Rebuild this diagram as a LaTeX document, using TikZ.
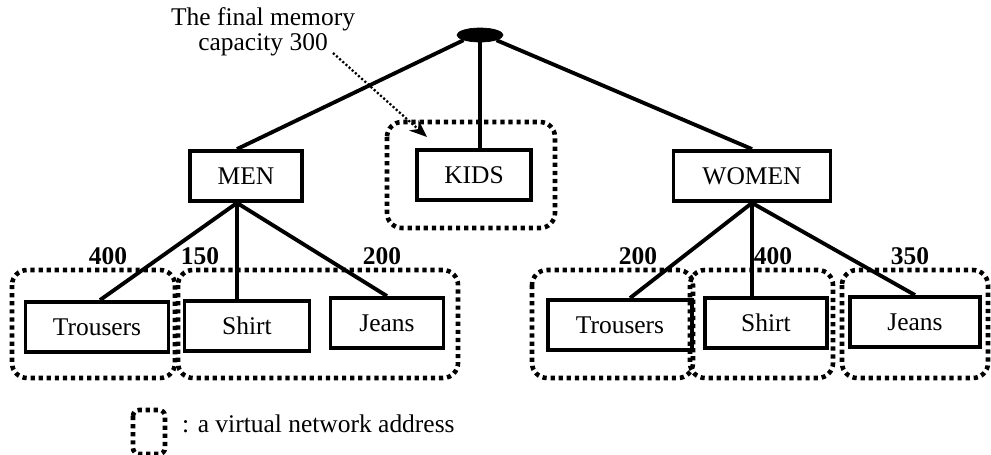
\documentclass[tikz,border=0pt]{standalone}
\usepackage{fontspec}
\setmainfont{Liberation Serif}
\usetikzlibrary{positioning,arrows.meta,shapes.geometric}

\tikzset{
	item/.style={draw,line width=2.2pt,inner sep=0pt,minimum height=50*0.02cm,font=\fontsize{14.5}{17}\selectfont},
	edge/.style={line width=2.2pt},
	vnet/.style={line width=2.6pt,dash pattern=on 2.4pt off 2.2pt,rounded corners=0.3cm},
	capnum/.style={font=\fontsize{14.5}{17}\selectfont\bfseries}
}

\begin{document}
\begin{tikzpicture}[x=0.02cm,y=-0.02cm]
	\useasboundingbox (0,0) rectangle (991,454);

	%root and first level
	\node[draw,fill=black,ellipse,minimum width=46*0.02cm,minimum height=14*0.02cm,inner sep=0pt] (root) at (480,35) {};
	\node[item,minimum width=112*0.02cm] (men) at (246,176) {MEN};
	\node[item,minimum width=114*0.02cm] (kids) at (474,175) {KIDS};
	\node[item,minimum width=157*0.02cm] (women) at (752,176) {WOMEN};

	\draw[edge] (root.south west) -- (men.north -| 237,0);
	\draw[edge] (root.south) -- (kids.north -| root.south);
	\draw[edge] (root.south east) -- (women.north);

	%second level, men
	\node[item,minimum width=143*0.02cm] (trousersM) at (97,327) {Trousers};
	\node[item,minimum width=125*0.02cm] (shirtM) at (247,326) {Shirt};
	\node[item,minimum width=113*0.02cm] (jeansM) at (387,323) {Jeans};

	\draw[edge] (men.south -| 237,0) -- (trousersM.north -| 100,0);
	\draw[edge] (men.south -| 237,0) -- (shirtM.north -| 237,0);
	\draw[edge] (men.south -| 237,0) -- (jeansM.north);

	%second level, women
	\node[item,minimum width=144*0.02cm] (trousersW) at (620,325) {Trousers};
	\node[item,minimum width=122*0.02cm] (shirtW) at (766,323) {Shirt};
	\node[item,minimum width=130*0.02cm] (jeansW) at (915,322) {Jeans};

	\draw[edge] (women.south) -- (trousersW.north -| 630,0);
	\draw[edge] (women.south) -- (shirtW.north -| women.south);
	\draw[edge] (women.south) -- (jeansW.north);

	%capacities
	\node[capnum] (c1) at (108,256) {400};
	\node[capnum] (c2) at (200,256) {150};
	\node[capnum] (c3) at (382,256) {200};
	\node[capnum] (c4) at (638,256) {200};
	\node[capnum] (c5) at (773,256) {400};
	\node[capnum] (c6) at (910,256) {350};

	%virtual network addresses
	\draw[vnet] (387,122) rectangle (555,228);
	\draw[vnet] (12,270) rectangle (175,378);
	\draw[vnet] (178,270) rectangle (458,378);
	\draw[vnet] (532,270) rectangle (693,378);
	\draw[vnet] (690,270) rectangle (833,378);
	\draw[vnet] (842,270) rectangle (988,378);

	%note
	\node[align=center,font=\fontsize{14.5}{17}\selectfont] (note) at (263,32) {The final memory\\[-2.5pt]capacity 300};
	\coordinate (from) at (333,53);
	\coordinate (tip) at (427,137);
	\draw[line width=1.3pt,dash pattern=on 1.2pt off 1.2pt,-{Stealth[length=10pt,width=8pt]}] (from) -- (tip);

	%legend
	\draw[vnet,rounded corners=0.12cm] (133,410) rectangle (165,454);
	\node[anchor=west,font=\fontsize{14.5}{17}\selectfont] (legend) at (176,424) {: a virtual network address};
\end{tikzpicture}
\end{document}
